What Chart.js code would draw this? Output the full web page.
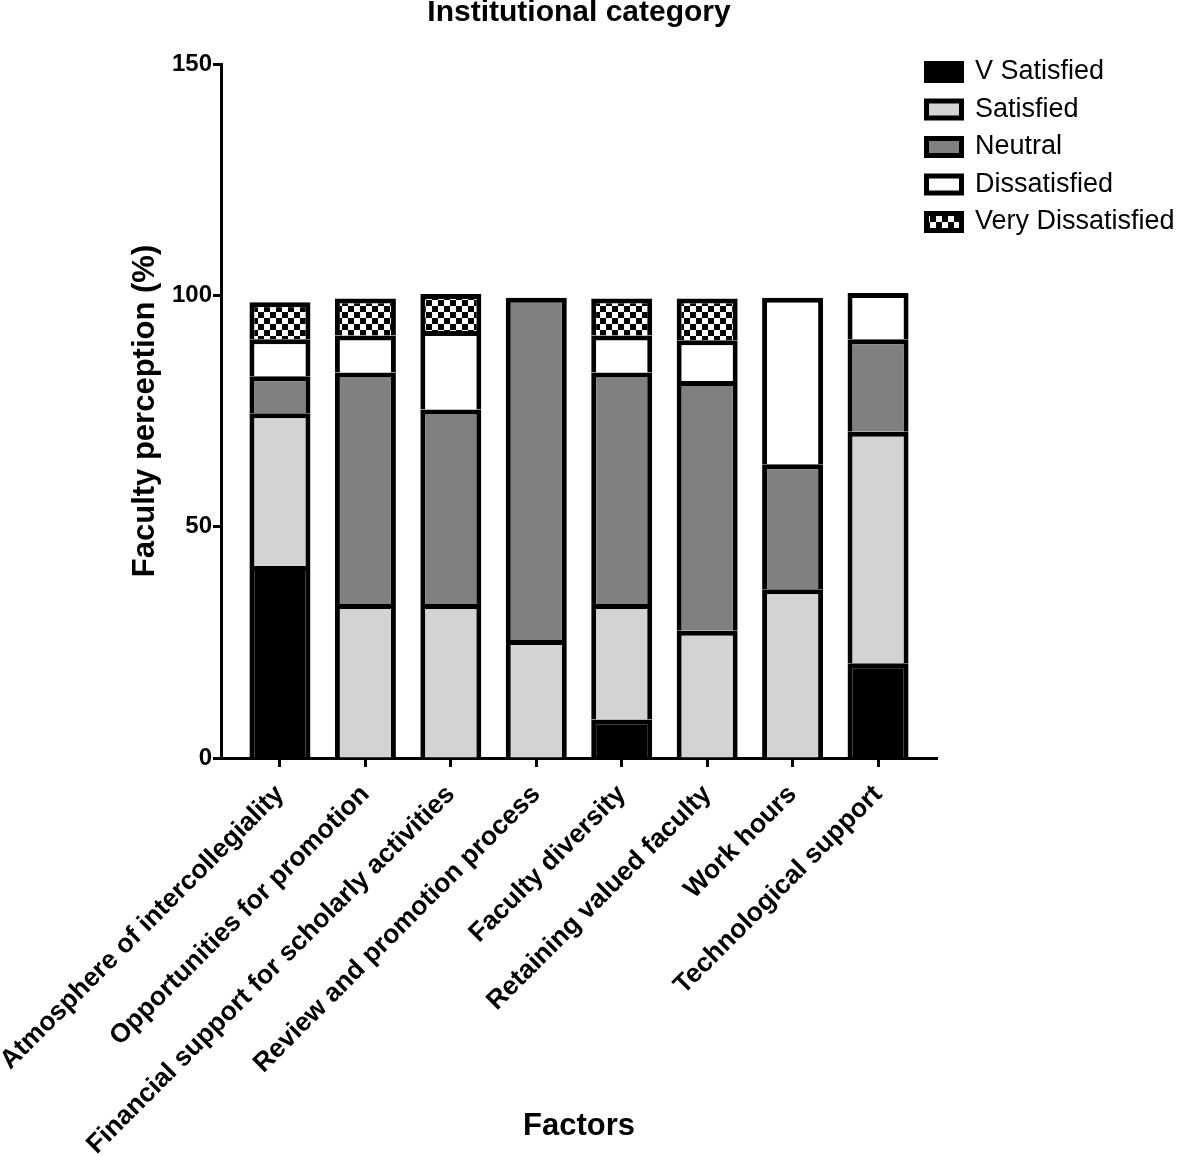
<!DOCTYPE html>
<html>
<head>
<meta charset="utf-8">
<title>Institutional category</title>
<script src="https://cdn.jsdelivr.net/npm/chart.js@4.4.1/dist/chart.umd.min.js"></script>
<style>
  body { margin: 0; background: #fff; }
  #wrap { width: 1181px; height: 1156px; }
</style>
</head>
<body>
<div id="wrap"><canvas id="surveyChart" width="1181" height="1156"></canvas></div>
<script>
const factors = [
  "Atmosphere of intercollegiality",
  "Opportunities for promotion",
  "Financial support for scholarly activities",
  "Review and promotion process",
  "Faculty diversity",
  "Retaining valued faculty",
  "Work hours",
  "Technological support",
];
// % of faculty per answer, bottom of the stack first
const vSatisfied = [41.5, null, null, null, 8.3, null, null, 20.5];
const satisfied = [33, 33.3, 33.3, 25.5, 25, 27.5, 36.5, 50];
const neutral = [8, 50, 42, 74, 50, 54, 27, 20];
const dissatisfied = [8, 8, 17, null, 8, 8.8, 36, 10];
const veryDissatisfied = [8, 8, 8, null, 8, 9, null, null];
const yMax = 150;
const yStep = 50;

Chart.defaults.font.family = "'Liberation Sans', Arial, Helvetica, sans-serif";
Chart.defaults.color = "#000";

const ctx = document.getElementById("surveyChart").getContext("2d");

function checker(size) {
  const c = document.createElement("canvas");
  c.width = c.height = size * 2;
  const g = c.getContext("2d");
  g.fillStyle = "#000";
  g.fillRect(0, 0, size * 2, size * 2);
  g.fillStyle = "#fff";
  g.fillRect(0, 0, size, size);
  g.fillRect(size, size, size, size);
  return ctx.createPattern(c, "repeat");
}

const toPoints = (vals) => vals.map((v, i) => ({ x: i, y: v }));

const series = [
  ["V Satisfied", vSatisfied, "#000000"],
  ["Satisfied", satisfied, "#d3d3d3"],
  ["Neutral", neutral, "#808080"],
  ["Dissatisfied", dissatisfied, "#ffffff"],
  ["Very Dissatisfied", veryDissatisfied, checker(6)],
];

// legend sits partly above the plot's right end, as in the original figure
const legendPlace = {
  id: "legendPlace",
  afterLayout(chart) {
    const lg = chart.legend;
    const h = lg.height;
    lg.left = 916;
    lg.right = chart.width;
    lg.width = lg.right - lg.left;
    lg.top = 48;
    lg.bottom = 48 + h;
  },
};

const chart = new Chart(ctx, {
  type: "bar",
  data: {
    datasets: series.map(([label, vals, fill]) => ({
      label: label,
      data: toPoints(vals),
      backgroundColor: fill,
      borderColor: "#000",
      borderWidth: 5,
      barPercentage: 0.714,
      categoryPercentage: 1,
    })),
  },
  options: {
    responsive: false,
    animation: false,
    devicePixelRatio: 1,
    layout: { padding: 0 },
    scales: {
      x: {
        type: "linear",
        stacked: true,
        offset: false,
        min: -0.69,
        max: 7.69,
        z: 1,
        afterFit: (s) => {
          s.height = 398;
          s.paddingLeft = 0;
          s.paddingRight = 0;
        },
        ticks: {
          stepSize: 1,
          includeBounds: false,
          autoSkip: false,
          minRotation: 45,
          maxRotation: 45,
          padding: 12,
          font: { size: 26.5, weight: "bold" },
          callback: (v) => factors[v] ?? "",
        },
        grid: {
          offset: false,
          drawOnChartArea: false,
          tickLength: 9,
          tickWidth: 3,
          tickColor: "#000",
        },
        border: { color: "#000", width: 3 },
        title: {
          display: true,
          text: "Factors",
          font: { size: 31, weight: "bold" },
          padding: { top: 0, bottom: 11 },
        },
      },
      y: {
        stacked: true,
        min: 0,
        max: yMax,
        afterFit: (s) => {
          s.width = 221;
        },
        ticks: { stepSize: yStep, padding: 1, font: { size: 24, weight: "bold" } },
        grid: { drawOnChartArea: false, tickLength: 8, tickWidth: 3, tickColor: "#000" },
        border: { color: "#000", width: 3 },
        title: {
          display: true,
          text: "Faculty perception (%)",
          font: { size: 31, weight: "bold" },
          padding: { top: 127, bottom: 0 },
        },
      },
    },
    plugins: {
      title: {
        display: true,
        text: "Institutional category",
        fullSize: false,
        font: { size: 30, weight: "bold", lineHeight: 0.8 },
        padding: { top: 1, bottom: 39 },
      },
      legend: {
        position: "right",
        align: "start",
        maxWidth: 244,
        labels: {
          boxWidth: 35,
          boxHeight: 17,
          padding: 10.5,
          font: { size: 27 },
        },
      },
      tooltip: { enabled: false },
    },
  },
  plugins: [legendPlace],
});
</script>
</body>
</html>
